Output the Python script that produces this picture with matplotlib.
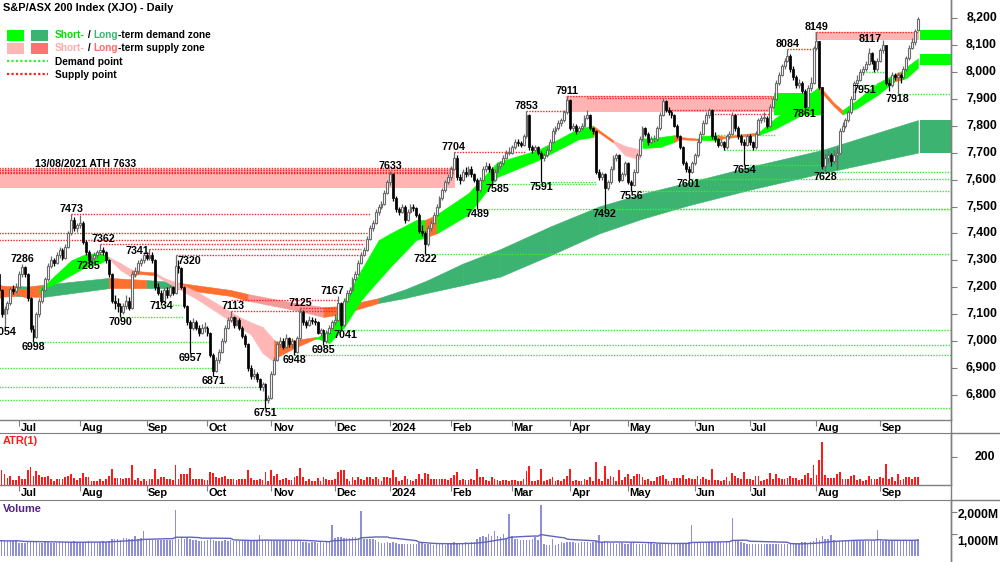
import matplotlib
matplotlib.use('Agg')
import matplotlib.pyplot as plt
from matplotlib.font_manager import FontProperties
from matplotlib.patches import Rectangle
from matplotlib.lines import Line2D
import matplotlib.transforms as mtransforms
import numpy as np
import pandas as pd

# ---------------- fonts ----------------
plt.rcParams['font.family'] = ['Liberation Sans', 'DejaVu Sans']


def FP(size):
    return FontProperties(family=['Liberation Sans', 'DejaVu Sans'], weight='bold', size=size)


FS_LAB = 7.7     # swing labels
FS_AX = 8.8      # right-hand axis numbers
FS_MON = 7.9     # month labels
FS_LEG = 7.3     # legend
FS_TTL = 7.9     # title

# ---------------- data (daily candles, 22 Jun 2023 - 19 Sep 2024) ----------------
opens = [
    7250, 7190, 7100, 7118, 7140, 7194, 7188,
    7203, 7250, 7275, 7250, 7160, 7045, 7015, 7100, 7150, 7190, 7230, 7280, 7300, 7290, 7320, 7340, 7310, 7350, 7400, 7450, 7420,
    7430, 7440, 7370, 7330, 7300, 7310, 7320, 7330, 7340, 7330, 7300, 7250, 7150, 7140, 7130, 7110, 7130, 7150, 7125, 7250, 7260, 7290, 7300,
    7320, 7310, 7320, 7300, 7200, 7180, 7150, 7190, 7170, 7200, 7180, 7280, 7270, 7200, 7130, 7070, 7050, 7070, 7050, 7030, 7050,
    7050, 7030, 6950, 6890, 6930, 6960, 7000, 7050, 7080, 7090, 7060, 7080, 7050, 7020, 6990, 6900, 6870, 6880, 6860, 6830, 6840, 6780,
    6790, 6880, 6930, 6990, 7000, 6980, 7010, 6990, 7000, 6960, 7010, 7110, 7070, 7060, 7080, 7075, 7070, 7030, 7040, 7000, 7030, 7050,
    7070, 7080, 7140, 7060, 7150, 7180, 7190, 7230, 7250, 7290, 7320, 7340, 7380, 7420, 7440, 7480, 7500, 7510, 7550,
    7590, 7620, 7530, 7490, 7480, 7500, 7450, 7480, 7500, 7495, 7470, 7410, 7400, 7360, 7420, 7440, 7470, 7500, 7530, 7560, 7590,
    7610, 7640, 7680, 7610, 7600, 7630, 7620, 7640, 7620, 7600, 7560, 7600, 7640, 7650, 7640, 7600, 7630, 7650, 7660, 7680, 7700,
    7700, 7720, 7740, 7735, 7730, 7760, 7840, 7720, 7710, 7720, 7700, 7680, 7690, 7710, 7740, 7780, 7790, 7810, 7820, 7850,
    7895, 7790, 7800, 7780, 7790, 7800, 7830, 7840, 7790, 7780, 7630, 7610, 7620, 7570, 7590, 7640, 7680, 7690, 7600, 7620,
    7660, 7590, 7580, 7630, 7690, 7750, 7790, 7770, 7740, 7750, 7750, 7790, 7840, 7890, 7860, 7850, 7840, 7800, 7760, 7720, 7660, 7640, 7630,
    7660, 7690, 7740, 7770, 7810, 7840, 7860, 7760, 7750, 7730, 7740, 7720, 7760, 7770, 7840, 7790, 7760, 7740, 7730,
    7760, 7740, 7720, 7770, 7820, 7830, 7830, 7800, 7870, 7900, 7960, 7990, 8020, 8040, 8060, 8010, 7980, 7950, 7960, 7930, 7870, 7940, 7960,
    8090, 8114, 7943, 7649, 7680, 7690, 7670, 7690, 7700, 7780, 7800, 7820, 7850, 7900, 7960, 7970, 8000, 8010, 8030, 8070, 8040, 8010,
    8040, 8080, 8100, 7960, 7950, 7990, 7980, 7990, 7980, 8010, 8050, 8090, 8110, 8155,
]
highs = [
    7255, 7195, 7130, 7150, 7200, 7210, 7215,
    7260, 7286, 7280, 7255, 7165, 7060, 7110, 7160, 7200, 7240, 7290, 7315, 7310, 7330, 7350, 7345, 7360, 7410, 7473, 7460, 7440,
    7470, 7445, 7375, 7340, 7320, 7330, 7340, 7362, 7350, 7335, 7305, 7255, 7170, 7160, 7140, 7140, 7170, 7165, 7260, 7275, 7300, 7310, 7330,
    7330, 7341, 7330, 7305, 7215, 7190, 7200, 7200, 7210, 7205, 7320, 7300, 7275, 7205, 7135, 7080, 7085, 7080, 7060, 7065, 7070,
    7055, 7035, 6955, 6940, 6970, 7010, 7060, 7090, 7113, 7095, 7090, 7085, 7055, 7025, 6995, 6910, 6895, 6885, 6865, 6850, 6845, 6800,
    6890, 6940, 7000, 7015, 7010, 7025, 7015, 7010, 7005, 7020, 7125, 7115, 7080, 7095, 7090, 7085, 7075, 7050, 7045, 7040, 7060, 7080,
    7100, 7167, 7145, 7160, 7190, 7200, 7240, 7260, 7300, 7330, 7350, 7390, 7430, 7450, 7490, 7510, 7520, 7560, 7600,
    7633, 7625, 7540, 7500, 7510, 7505, 7490, 7510, 7510, 7500, 7475, 7430, 7410, 7430, 7450, 7480, 7510, 7540, 7570, 7600, 7620,
    7650, 7704, 7690, 7620, 7640, 7645, 7650, 7650, 7625, 7605, 7610, 7650, 7665, 7660, 7645, 7640, 7660, 7670, 7690, 7710, 7720,
    7730, 7750, 7750, 7745, 7770, 7853, 7845, 7730, 7730, 7725, 7705, 7700, 7720, 7750, 7790, 7800, 7820, 7830, 7860, 7911,
    7900, 7810, 7805, 7800, 7810, 7840, 7860, 7845, 7795, 7785, 7640, 7630, 7625, 7600, 7650, 7690, 7700, 7695, 7630, 7670,
    7665, 7600, 7640, 7700, 7760, 7800, 7795, 7775, 7760, 7765, 7800, 7850, 7903, 7895, 7870, 7860, 7845, 7805, 7765, 7725, 7670, 7650, 7670,
    7700, 7750, 7780, 7820, 7850, 7866, 7862, 7775, 7755, 7750, 7745, 7770, 7780, 7850, 7845, 7800, 7770, 7750, 7770,
    7770, 7745, 7780, 7830, 7840, 7850, 7835, 7880, 7910, 7970, 8000, 8030, 8050, 8084, 8065, 8020, 7990, 7975, 7965, 7935, 7950, 7980, 8095,
    8149, 8115, 7945, 7700, 7710, 7700, 7710, 7720, 7790, 7815, 7830, 7860, 7910, 7965, 7990, 8010, 8020, 8040, 8090, 8075, 8045, 8050,
    8090, 8117, 8100, 7975, 8000, 7995, 8000, 7995, 8020, 8060, 8100, 8125, 8160, 8205,
]
lows = [
    7180, 7090, 7054, 7100, 7135, 7175, 7180,
    7198, 7240, 7240, 7150, 7035, 6998, 7010, 7090, 7140, 7185, 7225, 7270, 7280, 7285, 7310, 7300, 7305, 7345, 7395, 7410, 7405,
    7420, 7360, 7320, 7285, 7290, 7300, 7310, 7320, 7320, 7290, 7240, 7140, 7120, 7110, 7090, 7100, 7120, 7115, 7120, 7240, 7250, 7280, 7290,
    7300, 7300, 7290, 7190, 7170, 7134, 7145, 7160, 7165, 7170, 7175, 7255, 7195, 7125, 7060, 6957, 7040, 7040, 7020, 7025, 7035,
    7020, 6940, 6871, 6885, 6920, 6955, 6995, 7045, 7070, 7050, 7055, 7040, 7010, 6980, 6890, 6860, 6860, 6850, 6820, 6815, 6751, 6770,
    6785, 6875, 6925, 6980, 6970, 6975, 6980, 6975, 6948, 6955, 7005, 7060, 7050, 7055, 7065, 7060, 7025, 7020, 6985, 6995, 7025, 7045,
    7060, 7075, 7041, 7055, 7145, 7170, 7185, 7225, 7245, 7285, 7315, 7335, 7375, 7410, 7435, 7470, 7490, 7505, 7545,
    7580, 7520, 7480, 7470, 7475, 7440, 7445, 7475, 7485, 7460, 7400, 7390, 7322, 7355, 7410, 7435, 7465, 7495, 7525, 7555, 7585,
    7600, 7635, 7600, 7585, 7595, 7610, 7615, 7610, 7590, 7489, 7555, 7595, 7630, 7630, 7585, 7595, 7625, 7640, 7655, 7675, 7690,
    7695, 7715, 7725, 7720, 7725, 7755, 7710, 7700, 7705, 7690, 7591, 7670, 7685, 7705, 7735, 7770, 7785, 7800, 7815, 7845,
    7785, 7780, 7770, 7775, 7785, 7795, 7825, 7785, 7770, 7620, 7600, 7600, 7492, 7560, 7585, 7635, 7670, 7590, 7595, 7615,
    7585, 7556, 7575, 7625, 7685, 7745, 7760, 7730, 7735, 7740, 7745, 7785, 7835, 7850, 7840, 7830, 7795, 7755, 7715, 7655, 7630, 7601, 7625,
    7655, 7685, 7735, 7765, 7805, 7830, 7750, 7740, 7720, 7725, 7710, 7715, 7750, 7765, 7780, 7750, 7730, 7654, 7725,
    7730, 7710, 7715, 7765, 7810, 7815, 7790, 7795, 7865, 7895, 7950, 7985, 8010, 8035, 8000, 7970, 7940, 7940, 7920, 7861, 7865, 7930, 7955,
    8080, 7935, 7640, 7628, 7660, 7650, 7660, 7640, 7695, 7775, 7790, 7815, 7845, 7895, 7951, 7965, 7990, 8005, 8025, 8030, 8000, 8005,
    8035, 8070, 7950, 7930, 7945, 7970, 7918, 7960, 7975, 8005, 8045, 8085, 8100, 8150,
]
closes = [
    7190, 7100, 7118, 7140, 7194, 7188, 7203,
    7250, 7275, 7250, 7160, 7045, 7015, 7100, 7150, 7190, 7230, 7280, 7300, 7290, 7320, 7340, 7310, 7350, 7400, 7450, 7420, 7430,
    7440, 7370, 7330, 7300, 7310, 7320, 7330, 7340, 7330, 7300, 7250, 7150, 7140, 7130, 7110, 7130, 7150, 7125, 7250, 7260, 7290, 7300, 7320,
    7310, 7320, 7300, 7200, 7180, 7150, 7190, 7170, 7200, 7180, 7280, 7270, 7200, 7130, 7070, 7050, 7070, 7050, 7030, 7050, 7050,
    7030, 6950, 6890, 6930, 6960, 7000, 7050, 7080, 7090, 7060, 7080, 7050, 7020, 6990, 6900, 6870, 6880, 6860, 6830, 6840, 6780, 6790,
    6880, 6930, 6990, 7000, 6980, 7010, 6990, 7000, 6960, 7010, 7110, 7070, 7060, 7080, 7075, 7070, 7030, 7040, 7000, 7030, 7050, 7070,
    7080, 7140, 7060, 7150, 7180, 7190, 7230, 7250, 7290, 7320, 7340, 7380, 7420, 7440, 7480, 7500, 7510, 7550, 7590,
    7620, 7530, 7490, 7480, 7500, 7450, 7480, 7500, 7495, 7470, 7410, 7400, 7360, 7420, 7440, 7470, 7500, 7530, 7560, 7590, 7610,
    7640, 7680, 7610, 7600, 7630, 7620, 7640, 7620, 7600, 7560, 7600, 7640, 7650, 7640, 7600, 7630, 7650, 7660, 7680, 7700, 7700,
    7720, 7740, 7735, 7730, 7760, 7840, 7720, 7710, 7720, 7700, 7680, 7690, 7710, 7740, 7780, 7790, 7810, 7820, 7850, 7895,
    7790, 7800, 7780, 7790, 7800, 7830, 7840, 7790, 7780, 7630, 7610, 7620, 7570, 7590, 7640, 7680, 7690, 7600, 7620, 7660,
    7590, 7580, 7630, 7690, 7750, 7790, 7770, 7740, 7750, 7750, 7790, 7840, 7890, 7860, 7850, 7840, 7800, 7760, 7720, 7660, 7640, 7630, 7660,
    7690, 7740, 7770, 7810, 7840, 7860, 7760, 7750, 7730, 7740, 7720, 7760, 7770, 7840, 7790, 7760, 7740, 7730, 7760,
    7740, 7720, 7770, 7820, 7830, 7830, 7800, 7870, 7900, 7960, 7990, 8020, 8040, 8060, 8010, 7980, 7950, 7960, 7930, 7870, 7940, 7960, 8090,
    8114, 7943, 7649, 7680, 7690, 7670, 7690, 7700, 7780, 7800, 7820, 7850, 7900, 7960, 7970, 8000, 8010, 8030, 8070, 8040, 8010, 8040,
    8080, 8100, 7960, 7950, 7990, 7980, 7990, 7980, 8010, 8050, 8090, 8110, 8150, 8195,
]
volumes_m = [
    700, 720, 680, 700, 690, 710, 740,
    620, 600, 610, 650, 660, 640, 630, 600, 620, 640, 650, 600, 610, 620, 640, 660, 650, 640, 660, 680, 650,
    650, 640, 660, 700, 650, 640, 620, 660, 680, 650, 700, 780, 800, 780, 760, 820, 850, 780, 800, 930, 800, 820, 1150,
    780, 740, 730, 760, 750, 740, 760, 720, 740, 750, 2100, 800, 820, 780, 880, 800, 760, 720, 700, 710, 690,
    720, 800, 750, 700, 690, 700, 760, 700, 720, 690, 700, 680, 720, 760, 740, 720, 700, 740, 960, 760, 740, 730,
    720, 700, 690, 710, 700, 680, 690, 700, 720, 680, 700, 640, 630, 620, 640, 630, 620, 640, 610, 630, 650, 1400,
    850, 860, 870, 840, 850, 830, 860, 880, 840, 2040, 800, 780, 790, 770, 760, 650, 620, 600, 640,
    620, 640, 600, 580, 560, 540, 560, 580, 550, 540, 600, 620, 580, 560, 540, 520, 540, 560, 550, 530, 600,
    620, 640, 600, 620, 610, 630, 620, 650, 650, 800, 880, 900, 880, 1000, 900, 1150, 900, 880, 1000, 850, 1930,
    900, 800, 780, 760, 740, 760, 750, 780, 870, 750, 2330, 540, 520, 530, 800, 520, 540, 630, 620, 640,
    630, 640, 620, 610, 650, 630, 640, 620, 640, 700, 960, 650, 700, 640, 620, 600, 580, 600, 590, 580,
    580, 600, 590, 570, 580, 560, 580, 600, 590, 570, 580, 560, 570, 590, 580, 560, 600, 620, 600, 610, 600, 640, 1400,
    630, 620, 640, 620, 610, 630, 640, 620, 630, 640, 620, 650, 640, 1740, 700, 680, 650, 620, 560,
    560, 540, 550, 560, 540, 550, 560, 570, 560, 550, 540, 560, 580, 570, 560, 550, 600, 620, 630, 640, 620, 650, 700,
    810, 760, 900, 800, 780, 960, 720, 700, 690, 700, 710, 690, 700, 680, 700, 690, 680, 700, 690, 700, 720, 1190,
    720, 700, 760, 720, 700, 690, 700, 680, 690, 700, 680, 700, 690, 780,
]

month_labels = ['Jul', 'Aug', 'Sep', 'Oct', 'Nov', 'Dec', '2024', 'Feb', 'Mar', 'Apr', 'May', 'Jun', 'Jul', 'Aug', 'Sep']
month_start = [7, 28, 51, 72, 94, 116, 135, 156, 177, 197, 217, 240, 259, 282, 304]
price_ticks = [6800, 6900, 7000, 7100, 7200, 7300, 7400, 7500, 7600, 7700, 7800, 7900, 8000, 8100, 8200]

# short-term zone (knot index, upper, lower, colour code of following segment)
st_idx = [0, 5, 10, 14, 15, 20, 25, 30, 35, 38, 42, 46, 48, 54, 57, 62, 69, 83, 87, 91, 95, 96, 102, 109, 110, 114, 119, 125,
          131, 135, 144, 147, 151, 162, 172, 186, 200, 205, 206, 212, 216, 221, 222, 228, 233, 235, 241, 242, 248, 250,
          262, 268, 276, 283, 284, 288, 291, 296, 303, 309, 311, 313, 317]
st_top = [7210, 7195, 7195, 7195, 7200, 7250, 7300, 7324, 7327, 7312, 7290, 7264, 7260, 7255, 7235, 7215, 7180, 7090, 7070,
          7053, 7004, 6997, 7004, 7015, 7015, 7042, 7150, 7264, 7375, 7400, 7450, 7450, 7470, 7550, 7665, 7710, 7790, 7800,
          7792, 7745, 7725, 7712, 7752, 7758, 7765, 7758, 7752, 7762, 7765, 7760, 7775, 7830, 7890, 7945, 7935, 7885, 7858,
          7896, 7958, 7992, 8000, 8018, 8050]
st_bot = [7160, 7180, 7160, 7180, 7194, 7216, 7246, 7276, 7290, 7306, 7264, 7236, 7250, 7245, 7225, 7195, 7152, 7053, 7025,
          6956, 6923, 6941, 6975, 7008, 7010, 6993, 7050, 7153, 7227, 7275, 7376, 7385, 7400, 7470, 7610, 7672, 7750, 7758,
          7782, 7737, 7690, 7675, 7717, 7721, 7740, 7750, 7746, 7748, 7745, 7754, 7765, 7790, 7835, 7905, 7920, 7872, 7842,
          7866, 7914, 7965, 7970, 7977, 8015]
st_col = ['o', 'o', 'o', 'g', 'g', 'g', 'g', 'g', 'g', 'p', 'p', 'o', 'o', 'p', 'p', 'p', 'p', 'p', 'p', 'p', 'o', 'o', 'o',
          'g', 'g', 'g', 'g', 'g', 'g', 'g', 'g', 'o', 'g', 'g', 'g', 'g', 'g', 'o', 'o', 'p', 'p', 'n', 'g', 'g', 'o', 'o',
          'g', 'g', 'o', 'o', 'g', 'g', 'g', 'o', 'o', 'o', 'g', 'g', 'g', 'o', 'g', 'g', 'n']

# long-term zone
lt_idx = [0, 6, 10, 15, 38, 51, 60, 80, 86, 102, 112, 118, 131, 140, 148, 160, 173, 190, 207, 222, 238, 260, 284, 317]
lt_top = [7205, 7205, 7203, 7209, 7235, 7227, 7220, 7190, 7175, 7142, 7127, 7130, 7160, 7192, 7227, 7288, 7342, 7425, 7500,
          7548, 7590, 7650, 7710, 7821]
lt_bot = [7165, 7168, 7166, 7164, 7197, 7197, 7197, 7168, 7150, 7116, 7090, 7100, 7142, 7160, 7180, 7208, 7240, 7318, 7400,
          7455, 7505, 7565, 7624, 7700]
lt_col = ['o', 'd', 'o', 'd', 'o', 'd', 'o', 'o', 's', 's', 'o', 'o', 'd', 'd', 'd', 'd', 'd', 'd', 'd', 'd', 'd', 'd',
          'd', 'n']

# supply / demand zones: (start idx, end idx, low, high)
supply_zone_start = [0, 196, 282]
supply_zone_end = [157, 267, 317]
supply_zone_low = [7570, 7850, 8117]
supply_zone_high = [7640, 7911, 8149]
demand_zone_start = [268]
demand_zone_end = [283]
demand_zone_low = [7840]
demand_zone_high = [7921]
# projected zones at the right edge
proj_low = [8117, 8025, 7700]
proj_high = [8155, 8066, 7821]
proj_col = ['g', 'g', 'd']

E = 328.4
supply_price = [7643, 7636, 7630, 7623, 7473, 7400, 7376, 7362, 7341, 7320, 7153, 7125, 7113, 7704, 7853, 7911, 7903,
                7860, 7845, 8084, 8149]
supply_from = [0, 0, 0, 0, 25, 0, 0, 35, 52, 61, 80, 104, 80, 157, 182, 196, 203, 229, 245, 272, 282]
supply_to = [157, 157, 157, 157, 128, 127, 126, 126, 125, 125, 117, 117, 117, 182, 196, 267, 267, 266, 266, 282, 317]
demand_price = [6900, 6830, 6782, 6998, 7090, 7134, 6751, 6948, 6985, 7041, 7322, 7489, 7585, 7591, 7492, 7556, 7601,
                7765, 7710, 7654, 7628, 7951, 8000, 7918]
demand_from = [0, 0, 0, 12, 42, 56, 92, 102, 112, 118, 147, 165, 170, 187, 209, 218, 238, 247, 250, 257, 285, 296, 298, 310]
demand_to = [74, 90, 92, 73, 64, 63, E, E, E, E, E, E, 206, 206, E, E, E, 268, 284, 284, E, 306, 306, E]

# swing labels
lab_val = [7054, 7286, 6998, 7473, 7285, 7362, 7090, 7341, 7134, 7320, 6957, 6871, 7113, 6751, 7125, 6948, 6985, 7167,
           7041, 7633, 7322, 7704, 7489, 7585, 7853, 7591, 7911, 7492, 7556, 7601, 7654, 8084, 7861, 8149, 7628, 8117,
           7951, 7918]
lab_idx = [2, 8, 12, 25, 31, 35, 42, 52, 56, 61, 66, 74, 80, 92, 104, 102, 112, 117, 118, 135, 147, 157, 165, 170, 182,
           187, 196, 209, 218, 238, 257, 272, 278, 282, 285, 305, 296, 310]
lab_side = ['b', 'a', 'b', 'a', 'b', 'a', 'b', 'a', 'b', 'a', 'b', 'b', 'a', 'b', 'a', 'b', 'b', 'a', 'b', 'a', 'b', 'a',
            'b', 'b', 'a', 'b', 'a', 'b', 'b', 'b', 'b', 'a', 'b', 'a', 'b', 'a', 'b', 'b']
# label nudges (pixels) to mimic the reference placement
lab_dx = [0, 0, 0, 0, 0, 3, 0, -12, 0, 14, 0, 0, 2, 0, 0, 0, 0, -6, 5, 0, 0, 0, 0, 6, 0, 0, 0, 0, 0, 0, 0, 0, 0, 0, 0,
          -13, 7, 0]
lab_dy = [0, 0, 0, 0, -3, 0, 0, 7, -4, 11, 0, 0, 0, 0, 0, 0, 0, 0, 0, 0, 0, 0, 0, 0, 0, 0, 0, 0, 0, 0, 0, 0, 0, 0, 0,
          4, 0, 0]

# ---------------- arrays ----------------
o = np.array(opens, float); h = np.array(highs, float); l = np.array(lows, float); c = np.array(closes, float)
vol = np.array(volumes_m, float)
n = len(c)
assert len(o) == n and len(h) == n and len(l) == n and len(vol) == n
idx = np.arange(n)

COL = {'g': '#00ff00', 'd': '#3cb371', 'p': '#ffb6b6', 's': '#f49a9a', 'o': '#ff7030'}
GREY = '#7f7f7f'

W, H = 1000, 562
fig = plt.figure(figsize=(W / 100, H / 100), dpi=100)
fig.patch.set_facecolor('white')


def rect(x0, y0, x1, y1):
    return [x0 / W, 1 - y1 / H, (x1 - x0) / W, (y1 - y0) / H]


ax = fig.add_axes(rect(0, 0, 951, 420))
axa = fig.add_axes(rect(0, 433, 951, 485))
axv = fig.add_axes(rect(0, 500, 951, 562))
XL = (0.448, 328.4)
for a in (ax, axa, axv):
    a.set_xlim(*XL)
    a.set_facecolor('white')
    for s in ('left', 'top'):
        a.spines[s].set_visible(False)
    for s in ('bottom', 'right'):
        a.spines[s].set_color(GREY)
        a.spines[s].set_linewidth(1)
    a.yaxis.tick_right()
    a.tick_params(axis='y', length=4, color=GREY, labelright=False, labelleft=False, left=False)
    a.tick_params(axis='x', direction='out', length=4, color=GREY, labelbottom=False)
    a.set_xticks(month_start)
axa.spines['top'].set_visible(True); axa.spines['top'].set_color(GREY)
axv.spines['top'].set_visible(True); axv.spines['top'].set_color(GREY)
axv.spines['bottom'].set_visible(False)
axv.tick_params(axis='x', length=0)

ax.set_ylim(6707.4, 8266.8)
axa.set_ylim(0, 371)
axv.set_ylim(-259, 2556)
ax.set_yticks(price_ticks)
axa.set_yticks([200])
axv.set_yticks([1000, 2000])


# ---------------- bands ----------------
def draw_band(a, kx, top, bot, cols, z):
    for i in range(len(kx) - 1):
        cc = cols[i]
        if cc == 'n':
            continue
        a.fill_between([kx[i], kx[i + 1]], [top[i], top[i + 1]], [bot[i], bot[i + 1]],
                       facecolor=COL[cc], edgecolor=COL[cc], lw=0.4, zorder=z)


draw_band(ax, lt_idx, lt_top, lt_bot, lt_col, 1)
draw_band(ax, st_idx, st_top, st_bot, st_col, 2)

for s0, s1, lo, hi in zip(supply_zone_start, supply_zone_end, supply_zone_low, supply_zone_high):
    x0 = s0 - 0.5 if s0 else -1
    ax.add_patch(Rectangle((x0, lo), s1 + 0.5 - x0, hi - lo, facecolor='#ffb3b3', lw=0, zorder=3))
for s0, s1, lo, hi in zip(demand_zone_start, demand_zone_end, demand_zone_low, demand_zone_high):
    ax.add_patch(Rectangle((s0 - 0.5, lo), s1 - s0 + 1, hi - lo, facecolor=COL['g'], lw=0, zorder=3))
for lo, hi, cc in zip(proj_low, proj_high, proj_col):
    ax.add_patch(Rectangle((n - 0.4, lo), E - n + 0.4, hi - lo, facecolor=COL[cc], lw=0, zorder=3))

ax.hlines(supply_price, supply_from, supply_to, colors='#ff2020', linestyles=(0, (1, 1)), lw=1, zorder=4)
ax.hlines(demand_price, demand_from, demand_to, colors='#33ee33', linestyles=(0, (1, 1)), lw=1, zorder=4)

# ---------------- candles ----------------
up = c >= o
blo = np.minimum(o, c)
bh = np.maximum(np.abs(c - o), 2.0)
ax.vlines(idx[up], l[up], h[up], color='#6a6a6a', lw=0.9, zorder=6)
ax.vlines(idx[~up], l[~up], h[~up], color='black', lw=0.9, zorder=6)
ax.bar(idx[up], bh[up], bottom=blo[up], width=0.66, facecolor='white', edgecolor='#6a6a6a', lw=0.8, zorder=7)
ax.bar(idx[~up], bh[~up], bottom=blo[~up], width=0.66, facecolor='black', edgecolor='black', lw=0.5, zorder=7)

# swing labels
for v, i, sd, dx, dy in zip(lab_val, lab_idx, lab_side, lab_dx, lab_dy):
    tr = ax.transData + mtransforms.ScaledTranslation(dx / 100, -dy / 100, fig.dpi_scale_trans)
    ax.text(i, v, str(v), transform=tr, ha='center', va='bottom' if sd == 'a' else 'top',
            fontproperties=FP(FS_LAB), color='black', zorder=9, clip_on=False)

# ---------------- ATR / volume ----------------
atr = h - l
axa.bar(idx, atr, width=0.62, color='#ff1a1a', lw=0)
axv.bar(idx, vol, width=0.5, color='#8f8fd8', lw=0)
vol_ma = pd.Series(vol).rolling(20, min_periods=1).mean().values
axv.plot(idx, vol_ma, color='#6262c0', lw=1)

# ---------------- axis texts ----------------
btr = mtransforms.blended_transform_factory(ax.transAxes, ax.transData)
for val in price_ticks:
    ax.text(997 / 951, val, f"{val:,}", transform=btr, ha='right', va='center', fontproperties=FP(FS_AX),
            clip_on=False)
fig.text(995 / W, 1 - 457 / H, '200', ha='right', va='center', fontproperties=FP(FS_AX))
fig.text(999 / W, 1 - 515 / H, '2,000M', ha='right', va='center', fontproperties=FP(FS_AX))
fig.text(999 / W, 1 - 542 / H, '1,000M', ha='right', va='center', fontproperties=FP(FS_AX))

trm = mtransforms.blended_transform_factory(ax.transData, fig.transFigure)
for lab, i in zip(month_labels, month_start):
    for ypx in (428, 493):
        ax.text(i, 1 - ypx / H, lab, transform=trm + mtransforms.ScaledTranslation(1.5 / 100, 0, fig.dpi_scale_trans),
                ha='left', va='center', fontproperties=FP(FS_MON), clip_on=False)

fig.text(3 / W, 1 - 441 / H, 'ATR(1)', color='#ff1a1a', ha='left', va='center', fontproperties=FP(FS_MON))
fig.text(3 / W, 1 - 509 / H, 'Volume', color='#552288', ha='left', va='center', fontproperties=FP(FS_MON))

# extra frame lines
fig.add_artist(Line2D([951 / W, 951 / W], [0, 1], color=GREY, lw=1))
fig.add_artist(Line2D([951 / W, 1], [1 - 433 / H] * 2, color=GREY, lw=1))
fig.add_artist(Line2D([951 / W, 1], [1 - 500 / H] * 2, color=GREY, lw=1))

# title, ATH label and legend
fig.text(3 / W, 1 - 8 / H, 'S&P/ASX 200 Index (XJO) - Daily', ha='left', va='center', fontproperties=FP(FS_TTL))
ax.text(86 / 951, 1 - 164 / 420, '13/08/2021 ATH 7633', transform=ax.transAxes, ha='center', va='center',
        fontproperties=FP(FS_LEG + 0.2), zorder=9)

for (x0, y0, x1, y1, cc) in [(7, 30, 24, 41, '#00ff00'), (31, 30, 48, 41, '#3cb371'),
                             (7, 43, 24, 54, '#ffb6b6'), (31, 43, 48, 54, '#ff7272')]:
    fig.add_artist(Rectangle((x0 / W, 1 - y1 / H), (x1 - x0) / W, (y1 - y0) / H, transform=fig.transFigure,
                             facecolor=cc, lw=0))
fig.add_artist(Line2D([7 / W, 48 / W], [1 - 61 / H] * 2, color='#33ee33', lw=1.6, linestyle=(0, (1, 1))))
fig.add_artist(Line2D([7 / W, 48 / W], [1 - 74 / H] * 2, color='#ff2020', lw=1.6, linestyle=(0, (1, 1))))

renderer = fig.canvas.get_renderer()


def seq_text(xpx, ypx, parts):
    x = xpx
    for s, cc in parts:
        t = fig.text(x / W, 1 - ypx / H, s, color=cc, ha='left', va='center', fontproperties=FP(FS_LEG))
        bb = t.get_window_extent(renderer=renderer)
        x = bb.x1


seq_text(55, 35, [('Short-', '#00e000'), (' / ', 'black'), ('Long', '#3cb371'), ('-term demand zone', 'black')])
seq_text(55, 48, [('Short-', '#ffaaaa'), (' / ', 'black'), ('Long', '#ff6a6a'), ('-term supply zone', 'black')])
seq_text(55, 62, [('Demand point', 'black')])
seq_text(55, 75, [('Supply point', 'black')])

fig.savefig('out.png', dpi=100, facecolor='white')
